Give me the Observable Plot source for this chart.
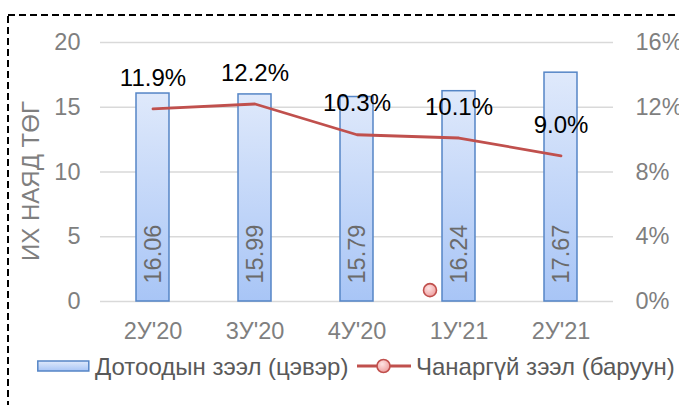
<!DOCTYPE html>
<html>
<head>
<meta charset="utf-8">
<script src="https://cdn.jsdelivr.net/npm/d3@7"></script>
<script src="https://cdn.jsdelivr.net/npm/@observablehq/plot@0.6"></script>
<style>
  html, body { margin: 0; padding: 0; background: #fff; }
  #wrap { position: relative; width: 679px; height: 405px; overflow: hidden; font-family: "Liberation Sans", Arial, sans-serif; }
  #frame { position: absolute; left: 0; top: 0; }
  #chart { position: absolute; left: 0; top: 0; }
  #legend { position: absolute; left: 0; top: 352px; width: 679px; height: 30px; font-size: 24px; color: #595959; }
  #legend .item { position: absolute; top: 0; display: flex; align-items: center; height: 30px; white-space: nowrap; }
</style>
</head>
<body>
<div id="wrap">
  <svg id="frame" width="679" height="405"></svg>
  <div id="chart"></div>
  <div id="legend"></div>
</div>
<script>
const quarters = ["2У'20", "3У'20", "4У'20", "1У'21", "2У'21"];
const loans = [16.06, 15.99, 15.79, 16.24, 17.67];
const npl = [11.9, 12.2, 10.3, 10.1, 9.0];
const leftTicks = [0, 5, 10, 15, 20];
const rightTicks = [0, 4, 8, 12, 16];
const strayQuarter = ["1У'21"];
const strayValue = [0.7];
const seriesNames = ["Дотоодын зээл (цэвэр)", "Чанаргүй зээл (баруун)"];
const axisTitle = "ИХ НАЯД ТӨГ";

const k = leftTicks[leftTicks.length - 1] / rightTicks[rightTicks.length - 1];
const data = quarters.map((q, i) => ({q, loan: loans[i], npl: npl[i]}));
const stray = strayQuarter.map((q, i) => ({q, v: strayValue[i]}));

const FONT = "'Liberation Sans', Arial, sans-serif";

const chart = Plot.plot({
  width: 679,
  height: 345,
  marginLeft: 100,
  marginRight: 66,
  marginTop: 42,
  marginBottom: 44,
  style: {fontFamily: FONT, fontSize: "23.5px", color: "#7f7f7f", background: "transparent"},
  x: {domain: quarters, paddingInner: 0.68, paddingOuter: 0.34, label: null},
  y: {domain: [0, 20], label: null},
  marks: [
    Plot.ruleY(leftTicks, {stroke: "#d9d9d9", strokeWidth: 1.4}),
    Plot.barY(data, {x: "q", y: "loan", fill: "url(#barGrad)", stroke: "#5585c6", strokeWidth: 1.5}),
    Plot.text(data, {x: "q", y: 0, text: d => d.loan.toFixed(2), rotate: -90, textAnchor: "start", lineAnchor: "middle", dy: -18, fill: "#6b6b6b", fontSize: 23.5}),
    Plot.line(data, {x: "q", y: d => d.npl * k, stroke: "#c0504d", strokeWidth: 2.8, style: "filter: drop-shadow(1px 2px 1.5px rgba(0,0,0,0.3))"}),
    Plot.text(data, {x: "q", y: d => d.npl * k, text: d => d.npl.toFixed(1) + "%", dy: -31, lineAnchor: "middle", fill: "#000", fontSize: 24}),
    Plot.dot(stray, {x: "q", y: d => d.v * k, dx: -29, r: 6.5, fill: "url(#dotGrad)", stroke: "#c0504d", strokeWidth: 1.6}),
    Plot.axisY(leftTicks, {anchor: "left", tickSize: 0, tickPadding: 20, label: null, fill: "#7f7f7f"}),
    Plot.axisY(rightTicks.map(v => v * k), {anchor: "right", tickSize: 0, tickPadding: 22, tickFormat: d => Math.round(d / k) + "%", label: null, fill: "#7f7f7f"}),
    Plot.axisX({tickSize: 0, tickPadding: 21, label: null, fill: "#7f7f7f"})
  ]
});

// gradients
const svg = d3.select(chart);
const defs = svg.insert("defs", ":first-child");
const g1 = defs.append("linearGradient").attr("id", "barGrad").attr("x1", 0).attr("y1", 0).attr("x2", 0).attr("y2", 1);
g1.append("stop").attr("offset", "0%").attr("stop-color", "#dfe9fb");
g1.append("stop").attr("offset", "100%").attr("stop-color", "#a8c5f6");
const g2 = defs.append("radialGradient").attr("id", "dotGrad").attr("cx", "40%").attr("cy", "35%").attr("r", "70%");
g2.append("stop").attr("offset", "0%").attr("stop-color", "#fde3e3");
g2.append("stop").attr("offset", "100%").attr("stop-color", "#ee9b9b");

// axis title
svg.append("text")
  .attr("transform", "translate(30,181) rotate(-90)")
  .attr("text-anchor", "middle")
  .attr("dominant-baseline", "central")
  .attr("fill", "#7f7f7f")
  .attr("font-size", 24)
  .attr("font-family", FONT)
  .text(axisTitle);

document.getElementById("chart").appendChild(chart);

// dashed frame
d3.select("#frame").append("rect")
  .attr("x", 8).attr("y", 15).attr("width", 720).attr("height", 450)
  .attr("fill", "none").attr("stroke", "#000").attr("stroke-width", 2)
  .attr("stroke-dasharray", "7 4");

// legend
const legend = document.getElementById("legend");
const item1 = document.createElement("div");
item1.className = "item";
item1.style.left = "37px";
item1.innerHTML = `<svg width="58" height="30"><rect x="0.8" y="9" width="51" height="10" fill="url(#legGrad)" stroke="#5585c6" stroke-width="1.5"/><defs><linearGradient id="legGrad" x1="0" y1="0" x2="0" y2="1"><stop offset="0%" stop-color="#dfe9fb"/><stop offset="100%" stop-color="#a8c5f6"/></linearGradient></defs></svg><span>${seriesNames[0]}</span>`;
legend.appendChild(item1);
const item2 = document.createElement("div");
item2.className = "item";
item2.style.left = "357px";
item2.innerHTML = `<svg width="59" height="30"><line x1="0" x2="54" y1="14" y2="14" stroke="#c0504d" stroke-width="2.8"/><circle cx="26.5" cy="14" r="6.5" fill="url(#dotGrad2)" stroke="#c0504d" stroke-width="1.6"/><defs><radialGradient id="dotGrad2" cx="40%" cy="35%" r="70%"><stop offset="0%" stop-color="#fde3e3"/><stop offset="100%" stop-color="#ee9b9b"/></radialGradient></defs></svg><span>${seriesNames[1]}</span>`;
legend.appendChild(item2);
</script>
</body>
</html>
